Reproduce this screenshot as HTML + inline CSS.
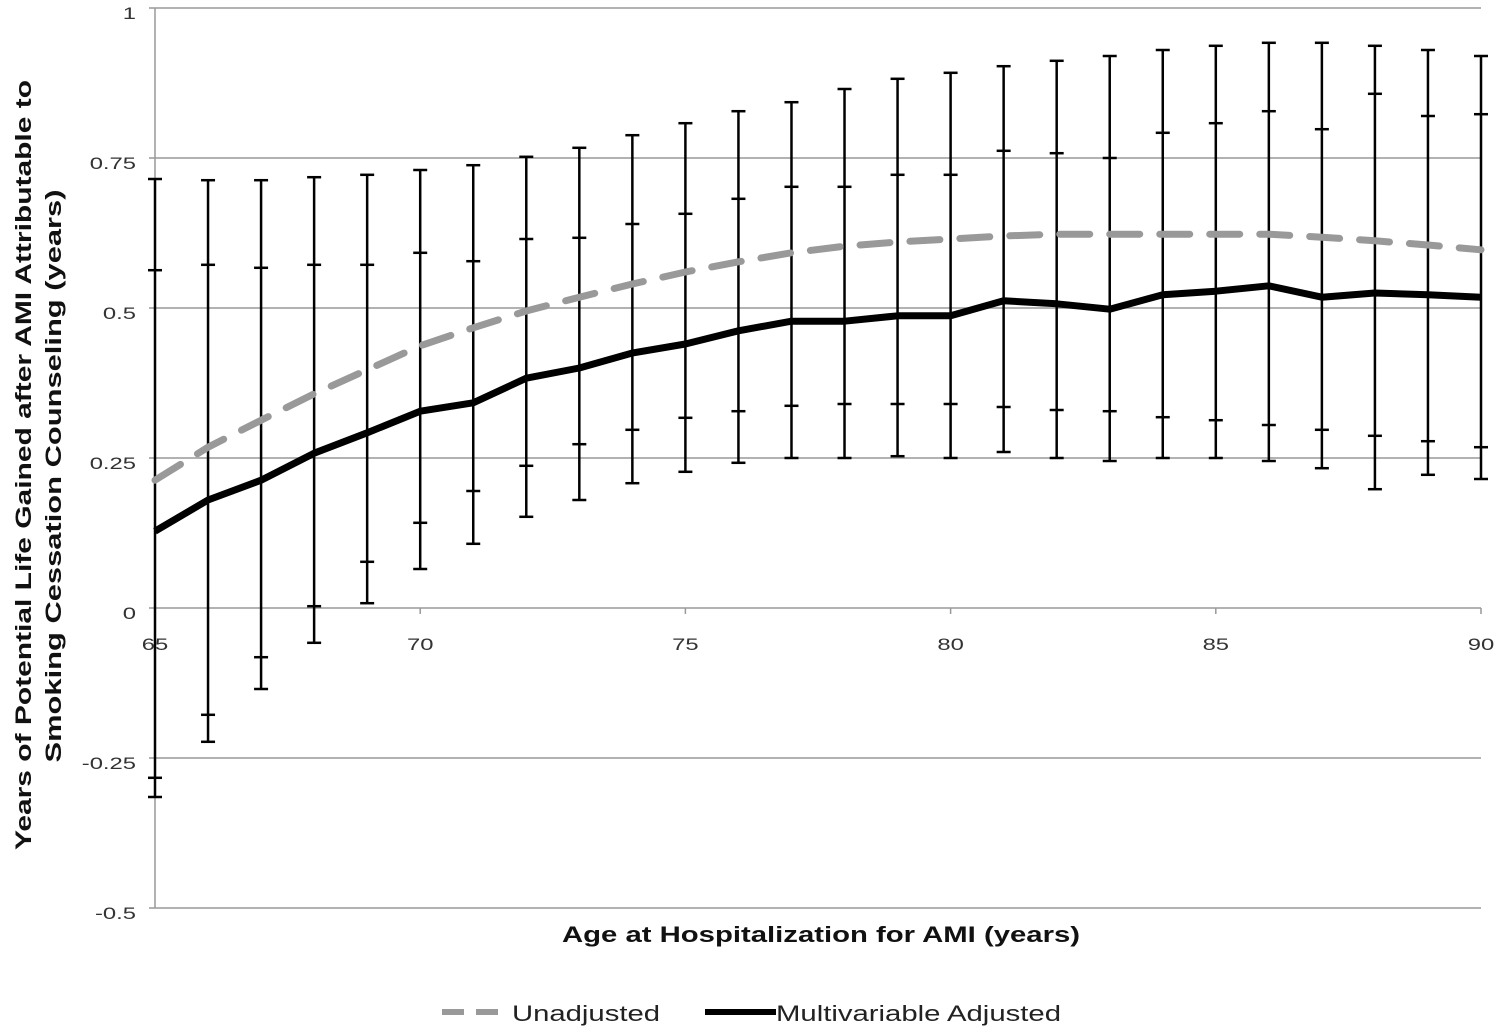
<!DOCTYPE html>
<html><head><meta charset="utf-8"><style>
html,body{margin:0;padding:0;background:#fff;}
svg{display:block;font-family:"Liberation Sans",Arial,sans-serif;}
</style></head><body>
<svg id="chart" width="1500" height="1033" viewBox="0 0 1500 1033" xmlns="http://www.w3.org/2000/svg">
<g id="grid"></g>
<g id="yaxis"></g>
<g id="xaxis"></g>
<g id="errbars"></g>
<g id="lines"></g>
<text transform="translate(31,465) rotate(-90)" text-anchor="middle" font-size="22" font-weight="bold" fill="#111" textLength="770" lengthAdjust="spacingAndGlyphs">Years of Potential Life Gained after AMI Attributable to</text>
<text transform="translate(61,476) rotate(-90)" text-anchor="middle" font-size="22" font-weight="bold" fill="#111" textLength="573" lengthAdjust="spacingAndGlyphs">Smoking Cessation Counseling (years)</text>
<text x="821" y="942" text-anchor="middle" font-size="22" font-weight="bold" fill="#111" textLength="518" lengthAdjust="spacingAndGlyphs">Age at Hospitalization for AMI (years)</text>
<g>
<line x1="442" y1="1012" x2="500" y2="1012" stroke="#999" stroke-width="6" stroke-dasharray="22,12"/>
<text x="512" y="1021" font-size="22" fill="#222" textLength="148" lengthAdjust="spacingAndGlyphs">Unadjusted</text>
<line x1="705" y1="1012" x2="776" y2="1012" stroke="#000" stroke-width="6"/>
<text x="776" y="1021" font-size="22" fill="#222" textLength="285" lengthAdjust="spacingAndGlyphs">Multivariable Adjusted</text>
</g>
</svg>
<script>
const ages=[65,66,67,68,69,70,71,72,73,74,75,76,77,78,79,80,81,82,83,84,85,86,87,88,89,90];
const unadjusted=[0.213,0.268,0.313,0.357,0.397,0.437,0.467,0.495,0.518,0.54,0.56,0.577,0.592,0.603,0.61,0.615,0.62,0.623,0.623,0.623,0.623,0.623,0.618,0.612,0.605,0.597];
const adjusted=[0.128,0.18,0.213,0.258,0.292,0.328,0.342,0.383,0.40,0.425,0.44,0.462,0.478,0.478,0.487,0.487,0.512,0.507,0.498,0.522,0.528,0.537,0.518,0.525,0.522,0.518];
const unadjHi=[0.715,0.713,0.713,0.718,0.722,0.73,0.738,0.752,0.767,0.788,0.808,0.828,0.843,0.865,0.882,0.892,0.903,0.912,0.92,0.93,0.937,0.942,0.942,0.937,0.93,0.92];
const adjHi=[0.563,0.572,0.567,0.572,0.572,0.592,0.578,0.615,0.617,0.64,0.657,0.682,0.702,0.702,0.722,0.722,0.762,0.758,0.75,0.792,0.808,0.828,0.798,0.857,0.82,0.823];
const unadjLo=[-0.283,-0.178,-0.082,0.003,0.077,0.142,0.195,0.237,0.273,0.297,0.317,0.328,0.337,0.34,0.34,0.34,0.335,0.33,0.328,0.318,0.313,0.305,0.297,0.287,0.278,0.268];
const adjLo=[-0.315,-0.223,-0.135,-0.058,0.008,0.065,0.107,0.152,0.18,0.208,0.227,0.242,0.25,0.25,0.253,0.25,0.26,0.25,0.245,0.25,0.25,0.245,0.233,0.198,0.222,0.215];
const yTicks=[1,0.75,0.5,0.25,0,-0.25,-0.5];
const yTickLabels=["1","0.75","0.5","0.25","0","-0.25","-0.5"];
const xTicks=[65,70,75,80,85,90];

const NS="http://www.w3.org/2000/svg";
const L=155,R=1481,T=8,B=908;
const xs=a=>L+(a-65)/(90-65)*(R-L);
const ys=v=>T+(1-v)/(1-(-0.5))*(B-T);
function mk(tag,attrs,parent){const e=document.createElementNS(NS,tag);for(const k in attrs)e.setAttribute(k,attrs[k]);parent.appendChild(e);return e;}
const grid=document.getElementById('grid'),yax=document.getElementById('yaxis'),xax=document.getElementById('xaxis'),eb=document.getElementById('errbars'),ln=document.getElementById('lines');

yTicks.forEach((v,i)=>{
  const g=mk('line',{x1:L,x2:R,y1:ys(v),y2:ys(v),stroke:'#999','stroke-width':1.5},grid);
  
  
  const tk=mk('line',{x1:L-6,x2:L,y1:ys(v),y2:ys(v),stroke:'#999','stroke-width':1.5},yax);
  
  
  const t=mk('text',{transform:'translate('+(L-19)+','+(ys(v)+11)+') scale(1.4,1)','text-anchor':'end','font-size':17,fill:'#333'},yax);
  t.textContent=yTickLabels[i];
  
  
});
const ya=mk('line',{x1:L,x2:L,y1:T,y2:B,stroke:'#999','stroke-width':1.5},yax);


xTicks.forEach(a=>{
  const tk=mk('line',{x1:xs(a),x2:xs(a),y1:ys(0),y2:ys(0)+6,stroke:'#999','stroke-width':1.5},xax);
  
  
  const t=mk('text',{transform:'translate('+xs(a)+','+(ys(0)+42)+') scale(1.4,1)','text-anchor':'middle','font-size':17,fill:'#333'},xax);
  t.textContent=String(a);
  
  
});

ages.forEach((a,i)=>{
  const x=xs(a);
  const top=Math.max(unadjHi[i],adjHi[i]),bot=Math.min(unadjLo[i],adjLo[i]);
  const v=mk('line',{x1:x,x2:x,y1:ys(top),y2:ys(bot),stroke:'#000','stroke-width':2.5},eb);
  
  
  [unadjHi[i],adjHi[i],unadjLo[i],adjLo[i]].forEach(c=>{
    const cp=mk('line',{x1:x-7,x2:x+7,y1:ys(c),y2:ys(c),stroke:'#000','stroke-width':2.5},eb);
    
    
  });
});

const pu=mk('polyline',{points:ages.map((a,i)=>xs(a)+','+ys(unadjusted[i])).join(' '),fill:'none',stroke:'#999','stroke-width':7,'stroke-dasharray':'30,20','stroke-linecap':'round'},ln);


const pa=mk('polyline',{points:ages.map((a,i)=>xs(a)+','+ys(adjusted[i])).join(' '),fill:'none',stroke:'#000','stroke-width':7,'stroke-linejoin':'round'},ln);


</script>
</body></html>
